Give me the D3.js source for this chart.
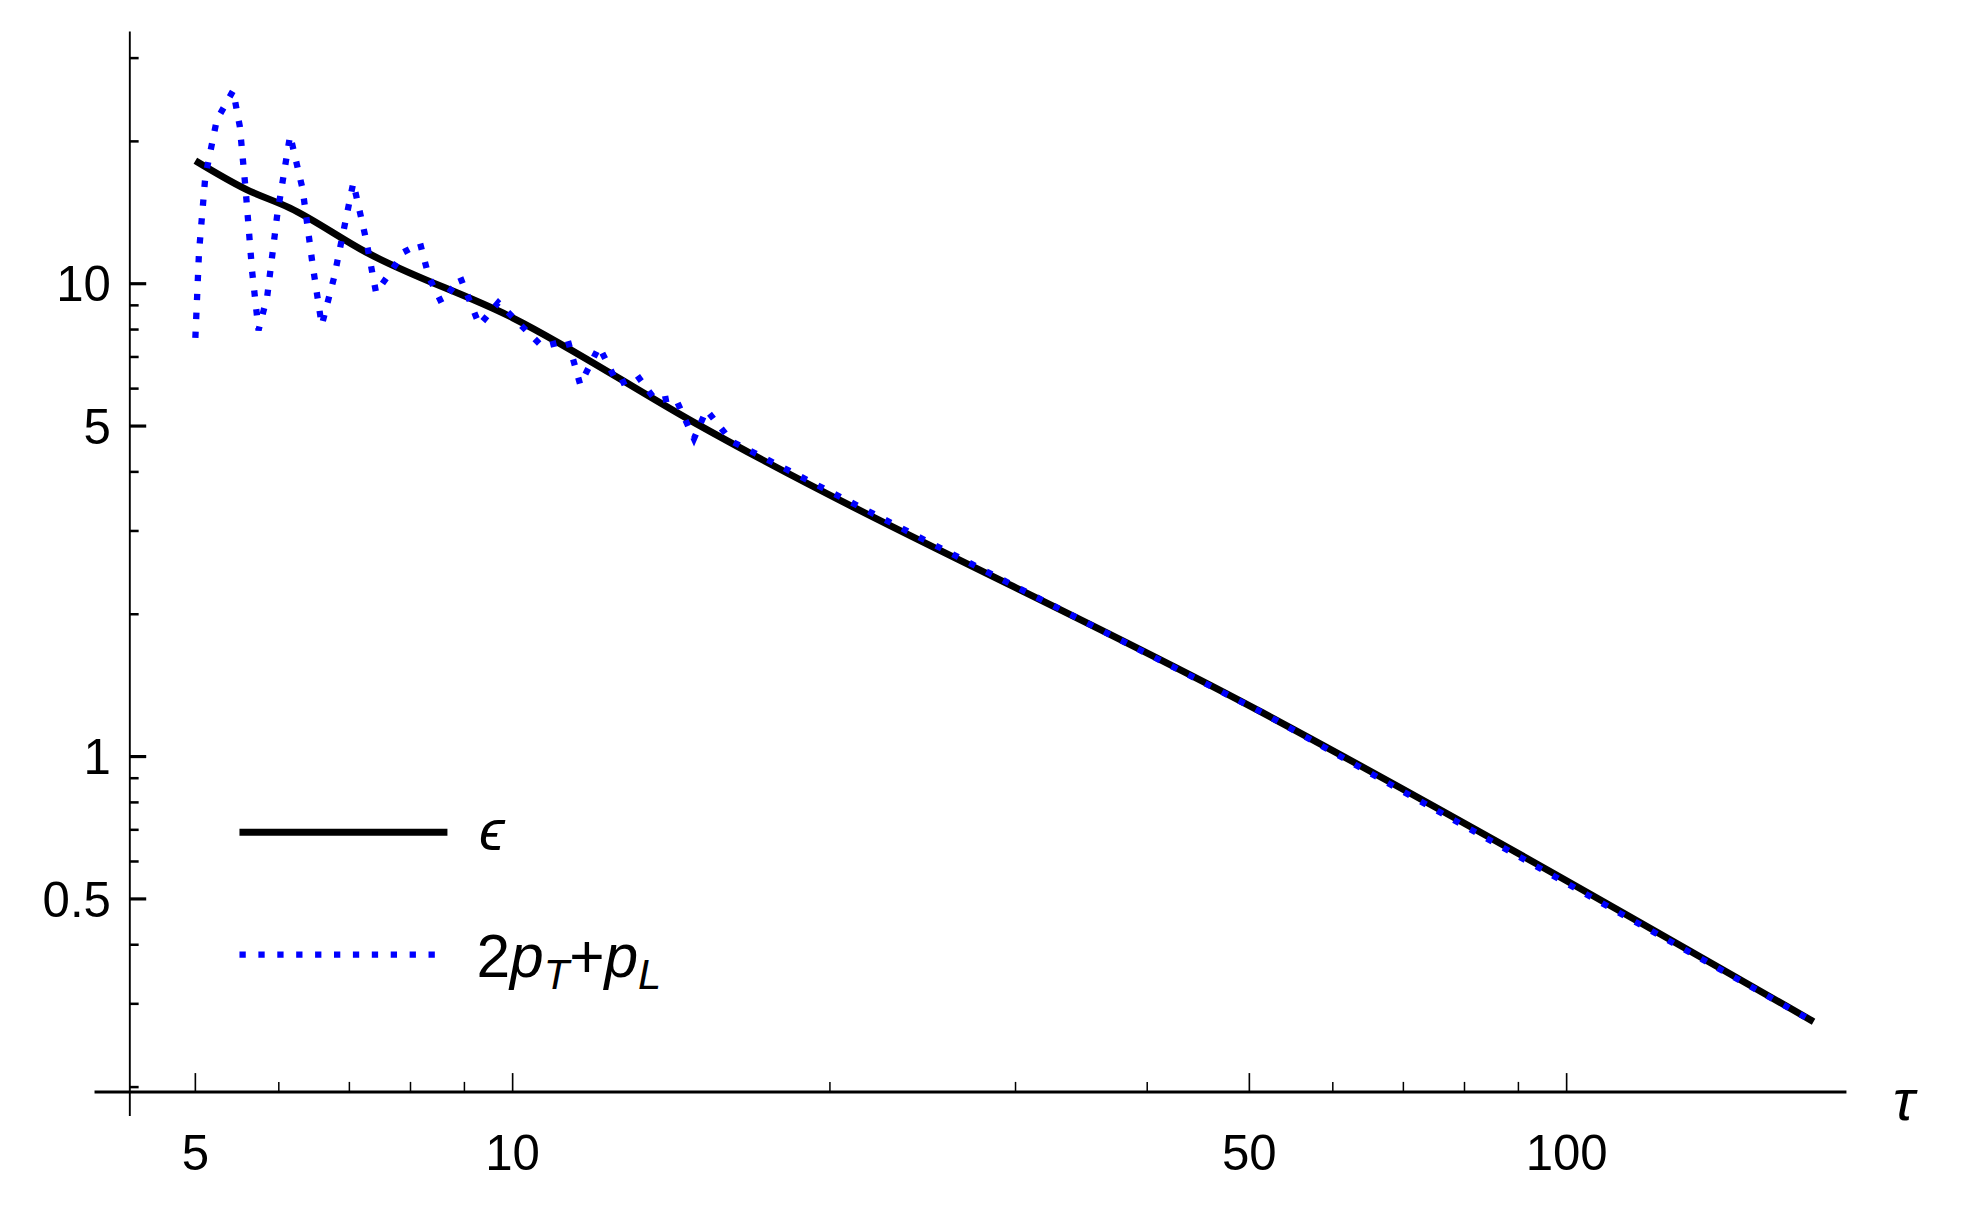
<!DOCTYPE html>
<html><head><meta charset="utf-8">
<script src="https://cdn.jsdelivr.net/npm/d3@7"></script>
<style>body{margin:0;background:#fff}svg{display:block}</style>
</head><body>
<svg id="c" width="1975" height="1208" viewBox="0 0 1567 958" preserveAspectRatio="none"></svg>
<script>
const epsTau = [5, 5.58, 6.15, 7.26, 10, 14.86, 51.4, 171.5];
const epsVal = [18.2, 15.85, 14.45, 11.66, 8.47, 5.09, 1.24, 0.275];
const pTau = [5.00,5.04,5.11,5.24,5.43,5.51,5.58,5.66,5.74,5.85,5.98,6.15,6.32,6.46,6.59,6.77,7.06,7.26,7.42,7.67,7.88,8.17,8.33,8.56,8.92,9.30,9.69,10.1,10.67,11.28,11.59,12.08,12.59,13.13,13.68,14.26,14.86,15.27,16.14,51.4,171.5];
const pVal = [7.68,11.66,16.85,22.2,25.6,21.5,15.85,10.63,7.97,9.40,14.02,20.6,15.85,10.96,8.17,10.31,16.35,12.4,9.58,10.63,11.66,12.17,10.31,9.12,10.31,8.17,9.12,8.32,7.36,7.59,6.12,7.36,6.12,6.39,5.65,5.75,4.70,5.41,4.64,1.24,0.275];
const xMajor = [5,10,50,100];
const xMinor = [6,7,8,9,20,30,40,60,70,80,90,200];
const yMajor = [0.5,1,5,10];
const yMinor = [0.2,0.3,0.4,0.6,0.7,0.8,0.9,2,3,4,6,7,8,9,20,30];

const svg = d3.select("#c");
const x = d3.scaleLog().domain([5,100]).range([155,1243]);
const y = d3.scaleLog().domain([1,10]).range([600,225]);
const font = "'Liberation Sans', Arial, sans-serif";

svg.append("line").attr("x1",75).attr("x2",1465).attr("y1",866).attr("y2",866).attr("stroke","#000").attr("stroke-width",2.5);
svg.append("line").attr("x1",103).attr("x2",103).attr("y1",25).attr("y2",885).attr("stroke","#000").attr("stroke-width",1.5);
xMajor.forEach(v=>{
  svg.append("line").attr("x1",x(v)).attr("x2",x(v)).attr("y1",866).attr("y2",851).attr("stroke","#000").attr("stroke-width",1.3);
  svg.append("text").attr("x",x(v)).attr("y",928).attr("text-anchor","middle").attr("font-family",font).attr("font-size",39).text(v);
});
xMinor.filter(v=>x(v)<1460).forEach(v=>{
  svg.append("line").attr("x1",x(v)).attr("x2",x(v)).attr("y1",866).attr("y2",858).attr("stroke","#000").attr("stroke-width",1.2);
});
yMajor.forEach(v=>{
  svg.append("line").attr("x1",103).attr("x2",116).attr("y1",y(v)).attr("y2",y(v)).attr("stroke","#000").attr("stroke-width",2.5);
  svg.append("text").attr("x",88).attr("y",y(v)+14).attr("text-anchor","end").attr("font-family",font).attr("font-size",39).text(v);
});
yMinor.filter(v=>y(v)>25&&y(v)<880).forEach(v=>{
  svg.append("line").attr("x1",103).attr("x2",110).attr("y1",y(v)).attr("y2",y(v)).attr("stroke","#000").attr("stroke-width",2);
});
svg.append("text").attr("x",1502).attr("y",888).attr("font-family",font).attr("font-style","italic").attr("font-size",46).text("τ");

const line = d3.line().x(d=>x(d[0])).y(d=>y(d[1]));
svg.append("path").attr("d",line.curve(d3.curveMonotoneX)(epsTau.map((t,i)=>[t,epsVal[i]]))).attr("fill","none").attr("stroke","#000").attr("stroke-width",5.5);
svg.append("path").attr("d",d3.line().x(d=>x(d[0])).y(d=>y(d[1]))(pTau.map((t,i)=>[t,pVal[i]]))).attr("fill","none").attr("stroke","#0000ff").attr("stroke-width",5).attr("stroke-dasharray","5,10");

svg.append("line").attr("x1",190).attr("x2",355).attr("y1",660).attr("y2",660).attr("stroke","#000").attr("stroke-width",5.5);
svg.append("text").attr("x",380).attr("y",674).attr("font-family",font).attr("font-style","italic").attr("font-size",46).text("ϵ");
svg.append("line").attr("x1",190).attr("x2",345).attr("y1",757).attr("y2",757).attr("stroke","#0000ff").attr("stroke-width",5).attr("stroke-dasharray","5,10");
const t = svg.append("text").attr("x",378).attr("y",775).attr("font-family",font).attr("font-style","italic").attr("font-size",48);
t.append("tspan").attr("font-style","normal").text("2");
t.append("tspan").text("p");
t.append("tspan").attr("font-size",33).attr("dy",9).text("T");
t.append("tspan").attr("dy",-9).attr("font-style","normal").text("+");
t.append("tspan").text("p");
t.append("tspan").attr("font-size",33).attr("dy",9).text("L");
</script>
</body></html>
